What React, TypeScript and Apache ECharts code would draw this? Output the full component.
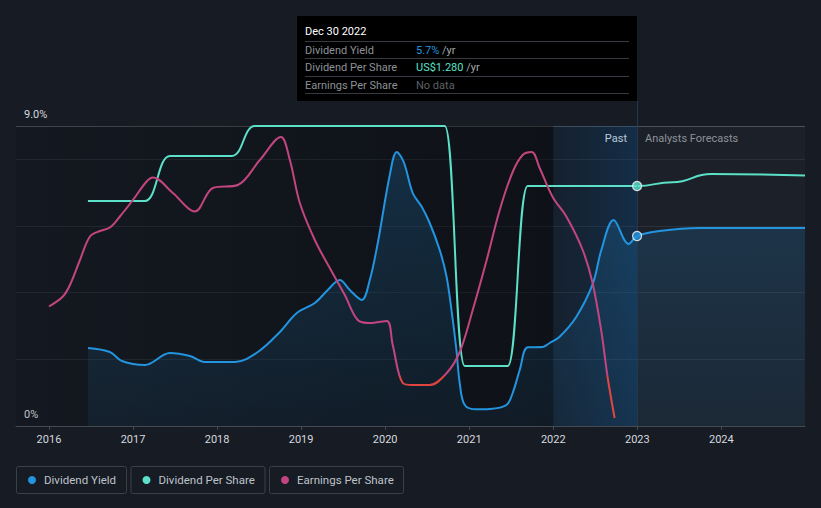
import { useEffect, useRef } from 'react';
import * as echarts from 'echarts';

// ---- Data (x values are fractional years) ----
const yieldYears = [2016.464, 2016.725, 2016.868, 2017.141, 2017.439, 2017.677, 2017.855, 2018.212, 2018.485, 2018.747, 2018.949, 2019.163, 2019.317, 2019.46, 2019.579, 2019.722, 2019.817, 2019.912, 2020.055, 2020.138, 2020.221, 2020.328, 2020.432, 2020.53, 2020.649, 2020.729, 2020.788, 2020.848, 2020.887, 2020.947, 2021.086, 2021.244, 2021.442, 2021.517, 2021.601, 2021.696, 2021.874, 2021.957, 2022.076, 2022.275, 2022.472, 2022.572, 2022.718, 2022.897, 2022.997, 2023.265, 2023.741, 2024.995];
const yieldValues = [2.34, 2.22, 1.95, 1.83, 2.19, 2.1, 1.92, 1.92, 2.22, 2.82, 3.39, 3.69, 4.08, 4.38, 4.08, 3.78, 4.38, 5.49, 7.53, 8.22, 7.92, 6.99, 6.59, 6.09, 5.28, 4.5, 3.5, 2.28, 1.29, 0.63, 0.5, 0.51, 0.63, 0.99, 1.68, 2.36, 2.37, 2.49, 2.68, 3.28, 4.28, 5.28, 6.18, 5.46, 5.7, 5.85, 5.94, 5.94];

const dpsYears = [2016.464, 2017.141, 2017.439, 2018.176, 2018.449, 2020.709, 2020.947, 2021.458, 2021.696, 2022.997, 2023.42, 2023.88, 2024.995];
const dpsValues = [1.2, 1.2, 1.44, 1.44, 1.6, 1.6, 0.32, 0.32, 1.28, 1.28, 1.3, 1.344, 1.336];

const epsYears = [2016.0, 2016.166, 2016.25, 2016.369, 2016.488, 2016.606, 2016.725, 2016.844, 2016.999, 2017.162, 2017.237, 2017.474, 2017.736, 2017.95, 2018.247, 2018.509, 2018.759, 2018.866, 2018.985, 2019.163, 2019.341, 2019.52, 2019.674, 2019.817, 2020.019, 2020.09, 2020.209, 2020.328, 2020.53, 2020.733, 2020.887, 2021.042, 2021.208, 2021.363, 2021.517, 2021.636, 2021.743, 2021.838, 2021.993, 2022.159, 2022.35, 2022.468, 2022.575, 2022.646, 2022.73];
const epsValues = [1.39, 1.59, 1.82, 2.32, 2.79, 2.9, 2.97, 3.19, 3.52, 3.89, 3.97, 3.66, 3.29, 3.76, 3.82, 4.32, 4.78, 4.32, 3.46, 2.72, 2.16, 1.62, 1.12, 1.06, 1.1, 0.62, -0.14, -0.18, -0.18, 0.06, 0.48, 1.32, 2.32, 3.32, 4.08, 4.42, 4.48, 4.16, 3.58, 3.18, 2.52, 1.86, 0.86, -0.02, -0.84];

const xTickYears = [2016, 2017, 2018, 2019, 2020, 2021, 2022, 2023, 2024];
const xMinYear = 2015.608;
const xMaxYear = 2024.995;
const forecastStartYear = 2022.997;
const highlightStartYear = 2022.0;
const yieldTicks = [0, 9];

const tooltipDate = 'Dec 30 2022';
const legendItems = [
  { name: 'Dividend Yield', color: '#2394df' },
  { name: 'Dividend Per Share', color: '#5ce0c8' },
  { name: 'Earnings Per Share', color: '#c2457f' },
];

const pairs = (xs: number[], vs: number[]) => xs.map((x, i) => [x, vs[i]]);

const FONT = 'Roboto, "Noto Sans", sans-serif';

export default function App() {
  const ref = useRef<HTMLDivElement>(null);
  useEffect(() => {
    const chart = echarts.init(ref.current!, null, { renderer: 'svg' });
    const fIdxY = yieldYears.indexOf(forecastStartYear);
    const fIdxD = dpsYears.indexOf(forecastStartYear);
    const yieldNow = yieldValues[fIdxY];
    const dpsNow = dpsValues[fIdxD];

    const legendWidths = [110, 134, 134];
    let lx = 16;
    const legendGraphics: any[] = [];
    legendItems.forEach((it, i) => {
      const w = legendWidths[i];
      legendGraphics.push({
        type: 'group',
        x: lx,
        y: 466,
        children: [
          { type: 'rect', shape: { x: 0.5, y: 0.5, width: w, height: 27, r: 2 }, style: { fill: 'none', stroke: '#3a4049', lineWidth: 1 } },
          { type: 'circle', shape: { cx: 16, cy: 14, r: 4 }, style: { fill: it.color } },
          { type: 'text', x: 28, y: 14, style: { text: it.name, fill: '#bfc3c9', font: `11.5px ${FONT}`, verticalAlign: 'middle' } },
        ],
      });
      lx += w + 4.5;
    });

    const option: any = {
      animation: false,
      backgroundColor: '#161b24',
      textStyle: { fontFamily: FONT },
      grid: { left: 16, right: 16, top: 126, bottom: 82 },
      xAxis: {
        type: 'value',
        min: xMinYear,
        max: xMaxYear,
        splitNumber: 9,
        axisLine: { lineStyle: { color: '#454a52' } },
        axisTick: { show: true, length: 4, lineStyle: { color: '#454a52' }, customValues: xTickYears },
        axisLabel: {
          color: '#d6d9de',
          fontSize: 11,
          margin: 8,
          customValues: xTickYears,
          formatter: (v: number) => String(Math.round(v)),
        },
        splitLine: { show: false },
      },
      yAxis: [
        {
          type: 'value',
          min: 0,
          max: 9,
          interval: 2,
          axisLine: { show: false },
          axisTick: { show: false },
          axisLabel: {
            inside: true,
            margin: 8,
            verticalAlign: 'bottom',
            padding: [0, 0, 6, 0],
            color: '#d6d9de',
            fontSize: 11,
            showMinLabel: true,
            showMaxLabel: true,
            formatter: (v: number) => (yieldTicks.includes(v) ? (v === 0 ? '0%' : v.toFixed(1) + '%') : ''),
          },
          splitLine: { lineStyle: { color: ['#272c35', '#272c35', '#272c35', '#272c35', '#272c35', '#474c54'], width: 1 } },
        },
        { type: 'value', min: 0, max: 1.6, show: false, splitLine: { show: false } },
        { type: 'value', min: -1, max: 5, show: false, splitLine: { show: false } },
      ],
      visualMap: [
        {
          type: 'piecewise',
          show: false,
          seriesIndex: 2,
          dimension: 1,
          pieces: [
            { gte: -10, lt: 0, color: '#e2453f' },
            { gte: 0, lte: 10, color: '#c2457f' },
          ],
        },
      ],
      series: [
        {
          name: 'Dividend Yield',
          type: 'line',
          yAxisIndex: 0,
          data: pairs(yieldYears, yieldValues),
          smooth: 0.35,
          showSymbol: false,
          lineStyle: { color: '#2394df', width: 2 },
          itemStyle: { color: '#2394df' },
          areaStyle: {
            origin: 'start',
            color: new echarts.graphic.LinearGradient(0, 0, 0, 1, [
              { offset: 0, color: 'rgba(35,148,223,0.3)' },
              { offset: 1, color: 'rgba(35,148,223,0.1)' },
            ]),
          },
          markArea: {
            silent: true,
            data: [
              [
                {
                  xAxis: xMinYear,
                  itemStyle: {
                    color: new echarts.graphic.LinearGradient(0, 0, 1, 0, [
                      { offset: 0, color: 'rgba(0,0,0,0.1)' },
                      { offset: 1, color: 'rgba(0,0,0,0.36)' },
                    ]),
                  },
                },
                { xAxis: highlightStartYear },
              ],
              [
                {
                  xAxis: highlightStartYear,
                  itemStyle: {
                    color: new echarts.graphic.LinearGradient(0, 0, 1, 0, [
                      { offset: 0, color: 'rgba(16,80,135,0.1)' },
                      { offset: 1, color: 'rgba(16,85,145,0.32)' },
                    ]),
                  },
                },
                { xAxis: forecastStartYear },
              ],
              [
                { xAxis: forecastStartYear, itemStyle: { color: 'rgba(255,255,255,0.025)' } },
                { xAxis: xMaxYear },
              ],
            ],
          },
          markLine: {
            silent: true,
            symbol: 'none',
            label: { show: false },
            lineStyle: { color: '#24384c', width: 1, type: 'solid' },
            data: [{ xAxis: forecastStartYear }],
          },
        },
        {
          name: 'Dividend Per Share',
          type: 'line',
          yAxisIndex: 1,
          data: pairs(dpsYears, dpsValues),
          smooth: 0.5,
          smoothMonotone: 'x',
          showSymbol: false,
          lineStyle: { color: '#5ce0c8', width: 2 },
          itemStyle: { color: '#5ce0c8' },
        },
        {
          name: 'Earnings Per Share',
          type: 'line',
          yAxisIndex: 2,
          data: pairs(epsYears, epsValues),
          smooth: 0.35,
          showSymbol: false,
          lineStyle: { width: 2 },
        },
        {
          type: 'scatter',
          yAxisIndex: 0,
          data: [[forecastStartYear, yieldNow]],
          symbolSize: 9,
          itemStyle: { color: '#2394df', borderColor: '#ffffff', borderWidth: 1.2 },
          z: 5,
        },
        {
          type: 'scatter',
          yAxisIndex: 1,
          data: [[forecastStartYear, dpsNow]],
          symbolSize: 9,
          itemStyle: { color: '#5ce0c8', borderColor: '#ffffff', borderWidth: 1.2 },
          z: 5,
        },
      ],
      graphic: [
        { type: 'line', shape: { x1: 637.5, y1: 101, x2: 637.5, y2: 126 }, style: { stroke: '#24384c', lineWidth: 1 } },
        { type: 'text', x: 627, y: 138, style: { text: 'Past', fill: '#eef0f2', font: `11px ${FONT}`, align: 'right', verticalAlign: 'middle' } },
        { type: 'text', x: 645, y: 138, style: { text: 'Analysts Forecasts', fill: '#8b9098', font: `11px ${FONT}`, verticalAlign: 'middle' } },
        {
          type: 'group',
          x: 297,
          y: 16,
          children: [
            { type: 'rect', shape: { x: 0, y: 0, width: 340, height: 85 }, style: { fill: '#000000' } },
            { type: 'text', x: 8, y: 15, style: { text: tooltipDate, fill: '#ffffff', font: `11px ${FONT}`, verticalAlign: 'middle' } },
            { type: 'line', shape: { x1: 8, y1: 25.5, x2: 332, y2: 25.5 }, style: { stroke: '#363b42', lineWidth: 1 } },
            { type: 'line', shape: { x1: 8, y1: 42.5, x2: 332, y2: 42.5 }, style: { stroke: '#363b42', lineWidth: 1 } },
            { type: 'line', shape: { x1: 8, y1: 60.5, x2: 332, y2: 60.5 }, style: { stroke: '#363b42', lineWidth: 1 } },
            { type: 'line', shape: { x1: 8, y1: 77.5, x2: 332, y2: 77.5 }, style: { stroke: '#363b42', lineWidth: 1 } },
            { type: 'text', x: 8, y: 34, style: { text: 'Dividend Yield', fill: '#8d9197', font: `11px ${FONT}`, verticalAlign: 'middle' } },
            { type: 'text', x: 8, y: 51, style: { text: 'Dividend Per Share', fill: '#8d9197', font: `11px ${FONT}`, verticalAlign: 'middle' } },
            { type: 'text', x: 8, y: 69, style: { text: 'Earnings Per Share', fill: '#8d9197', font: `11px ${FONT}`, verticalAlign: 'middle' } },
            {
              type: 'text',
              x: 119,
              y: 34,
              style: {
                text: `{v|${yieldNow.toFixed(1)}%}{u| /yr}`,
                verticalAlign: 'middle',
                rich: { v: { fill: '#2394df', font: `11px ${FONT}` }, u: { fill: '#a3a7ad', font: `11px ${FONT}` } },
              },
            },
            {
              type: 'text',
              x: 119,
              y: 51,
              style: {
                text: `{v|US$${dpsNow.toFixed(3)}}{u| /yr}`,
                verticalAlign: 'middle',
                rich: { v: { fill: '#5ce0c8', font: `11px ${FONT}` }, u: { fill: '#a3a7ad', font: `11px ${FONT}` } },
              },
            },
            { type: 'text', x: 119, y: 69, style: { text: 'No data', fill: '#5d6168', font: `11px ${FONT}`, verticalAlign: 'middle' } },
          ],
        },
        ...legendGraphics,
      ],
    };
    chart.setOption(option);
    return () => chart.dispose();
  }, []);
  return <div ref={ref} style={{ position: 'absolute', left: 0, top: 0, width: 821, height: 508 }} />;
}
